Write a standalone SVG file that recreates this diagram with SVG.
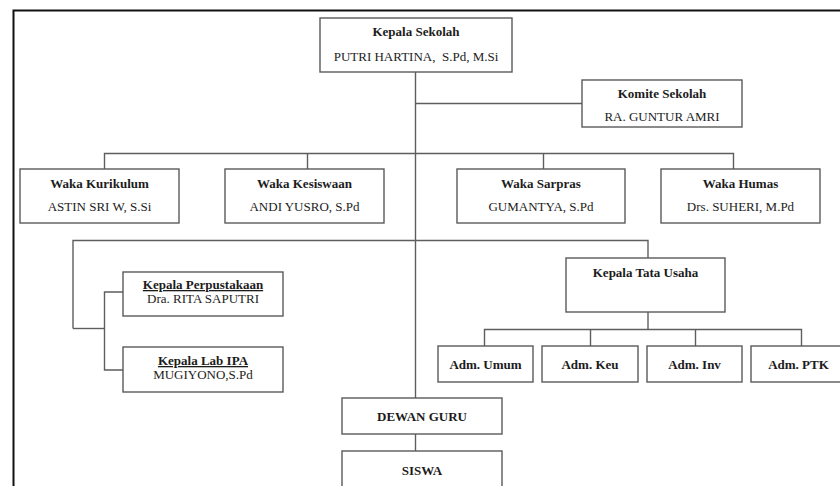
<svg xmlns="http://www.w3.org/2000/svg" width="840" height="486" viewBox="0 0 840 486">
<style>
  .box { fill: #ffffff; stroke: #5a5a5a; stroke-width: 1.4; }
  .ln { fill: none; stroke: #5e5e5e; stroke-width: 1.4; }
  text { font-family: "Liberation Serif", "Times New Roman", serif; font-size: 13px; fill: #1c1c1c; text-anchor: middle; }
  .t { font-weight: bold; }
  .u { text-decoration: underline; }
</style>
<rect width="840" height="486" fill="#ffffff"/>
<path d="M13.5,486 V10.5 H840" fill="none" stroke="#111" stroke-width="2"/>

<g id="connectors">
  <path class="ln" d="M415.5,72 V398"/>
  <path class="ln" d="M415.5,103.5 H582"/>
  <path class="ln" d="M104.5,169 V153.5 H733.5 V169"/>
  <path class="ln" d="M307.5,153.5 V169"/>
  <path class="ln" d="M543.5,153.5 V169"/>
  <path class="ln" d="M73,328.5 V240.5 H648 V258"/>
  <path class="ln" d="M73,328.5 H104.5"/>
  <path class="ln" d="M123,292 H104.5 V370 H123"/>
  <path class="ln" d="M648,312 V329.5"/>
  <path class="ln" d="M484.5,346 V329.5 H801.5 V346"/>
  <path class="ln" d="M590.5,329.5 V346"/>
  <path class="ln" d="M695.5,329.5 V346"/>
  <path class="ln" d="M415.5,434 V451"/>
</g>

<g id="kepala-sekolah">
  <rect class="box" x="320" y="18" width="192" height="54"/>
  <text class="t" x="416" y="36">Kepala Sekolah</text>
  <text x="416" y="61" xml:space="preserve">PUTRI HARTINA,  S.Pd, M.Si</text>
</g>
<g id="komite-sekolah">
  <rect class="box" x="582" y="80" width="160" height="47"/>
  <text class="t" x="662" y="98">Komite Sekolah</text>
  <text x="662" y="121">RA. GUNTUR AMRI</text>
</g>
<g id="waka-kurikulum">
  <rect class="box" x="20" y="169" width="159" height="54"/>
  <text class="t" x="99.5" y="188">Waka Kurikulum</text>
  <text x="99.5" y="211">ASTIN SRI W, S.Si</text>
</g>
<g id="waka-kesiswaan">
  <rect class="box" x="225" y="169" width="159" height="54"/>
  <text class="t" x="304.5" y="188">Waka Kesiswaan</text>
  <text x="304.5" y="211">ANDI YUSRO, S.Pd</text>
</g>
<g id="waka-sarpras">
  <rect class="box" x="457" y="169" width="168" height="54"/>
  <text class="t" x="541" y="188">Waka Sarpras</text>
  <text x="541" y="211">GUMANTYA,  S.Pd</text>
</g>
<g id="waka-humas">
  <rect class="box" x="661" y="169" width="159" height="54"/>
  <text class="t" x="740.5" y="188">Waka Humas</text>
  <text x="740.5" y="211">Drs. SUHERI, M.Pd</text>
</g>
<g id="kepala-perpustakaan">
  <rect class="box" x="123" y="272" width="160" height="44"/>
  <text class="t u" x="203" y="289">Kepala Perpustakaan</text>
  <text x="203" y="303">Dra. RITA SAPUTRI</text>
</g>
<g id="kepala-lab-ipa">
  <rect class="box" x="123" y="347" width="160" height="45"/>
  <text class="t u" x="203" y="365">Kepala Lab IPA</text>
  <text x="203" y="379">MUGIYONO,S.Pd</text>
</g>
<g id="kepala-tata-usaha">
  <rect class="box" x="566" y="258" width="159" height="54"/>
  <text class="t" x="645.5" y="277">Kepala Tata Usaha</text>
</g>
<g id="adm-umum">
  <rect class="box" x="438" y="346" width="95" height="36"/>
  <text class="t" x="485.5" y="368.5">Adm. Umum</text>
</g>
<g id="adm-keu">
  <rect class="box" x="542" y="346" width="96" height="36"/>
  <text class="t" x="590" y="368.5">Adm. Keu</text>
</g>
<g id="adm-inv">
  <rect class="box" x="647" y="346" width="95" height="36"/>
  <text class="t" x="694.5" y="368.5">Adm. Inv</text>
</g>
<g id="adm-ptk">
  <rect class="box" x="751" y="346" width="95" height="36"/>
  <text class="t" x="798.5" y="368.5">Adm. PTK</text>
</g>
<g id="dewan-guru">
  <rect class="box" x="342" y="398" width="160" height="36"/>
  <text class="t" x="422" y="420.5">DEWAN GURU</text>
</g>
<g id="siswa">
  <rect class="box" x="342" y="451" width="160" height="45"/>
  <text class="t" x="422" y="474.5">SISWA</text>
</g>
</svg>
